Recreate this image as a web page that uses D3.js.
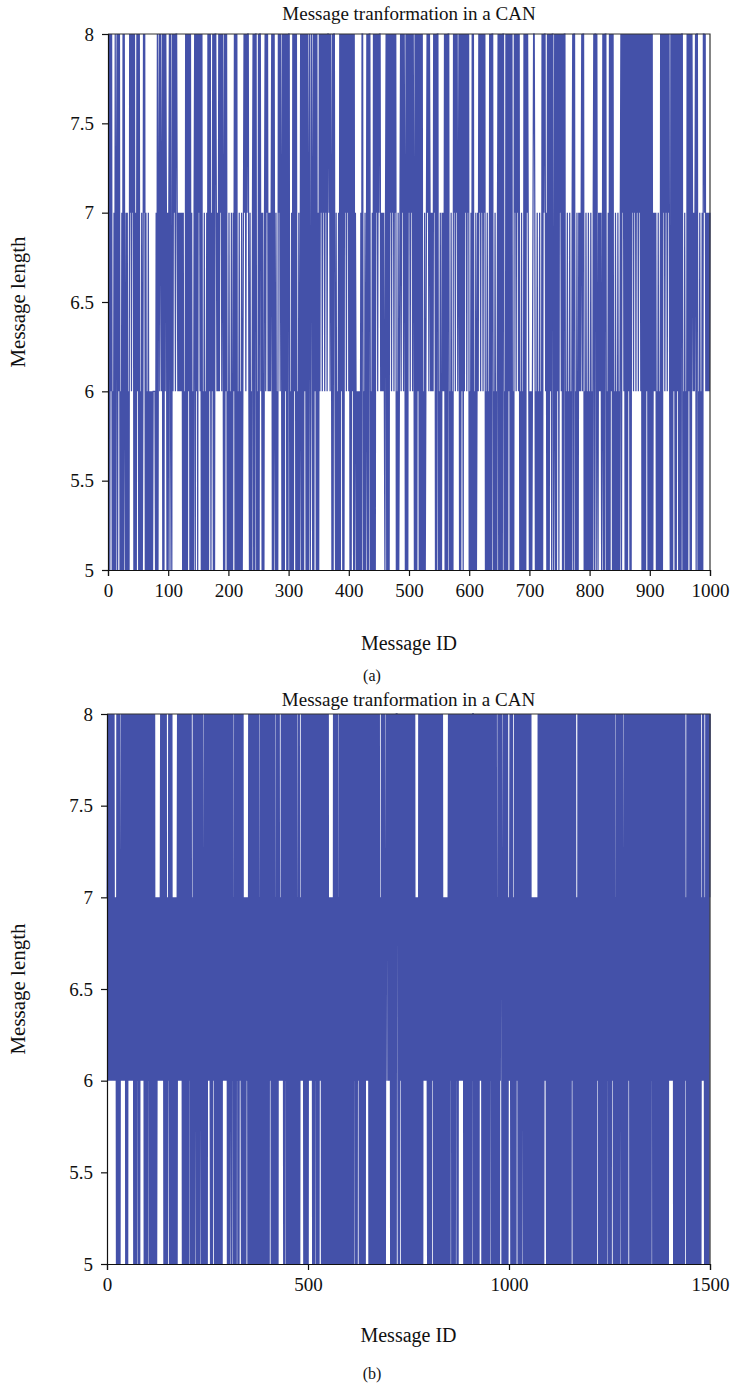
<!DOCTYPE html>
<html><head><meta charset="utf-8">
<script src="https://cdn.jsdelivr.net/npm/d3@7"></script>
<style>body{margin:0;background:#fff}</style>
</head><body>
<svg id="chart" width="733" height="1391"></svg>
<script>
// ---- data ----
const chartTitle = "Message tranformation in a CAN";
const xLabel = "Message ID";
const yLabel = "Message length";
const captions = ["(a)", "(b)"];
const yTicks = [5, 5.5, 6, 6.5, 7, 7.5, 8];
const xTicksA = [0, 100, 200, 300, 400, 500, 600, 700, 800, 900, 1000];
const xTicksB = [0, 500, 1000, 1500];
// message lengths, read left-to-right, 10 messages per block
const seriesABlocks = [
"7858685657","5857858685","6575858657","5756587868","7858575868","5856575687","8575657565","6565666657","5857868768","5858687575",
"7858658687","8688767676","7675756585","8586858575","6578586858","7868585657","5657585868","5768585887","6768687868","7585868565",
"7565755768","5858565756","5756787868","7886575657","8585885658","5886757557","8687867676","7858586575","6587868758","5858685858",
"8565758586","8585657568","5858586858","5857856875","8586858575","8687868786","8786887868","7585886575","6575858685","8587868786",
"8585868585","7656565657","5885657568","5858856575","8585878687","8867676765","7858585878","6878687856","5756786878","6875858587",
"8687868758","5858685858","5856575678","7868767676","8785858856","5755767685","8585885657","5658786878","6785858685","8687868785",
"6575858565","7567687868","7868785657","5658585885","6575657858","5858588565","8585868585","8565878687","8685657565","8585878765",
"6565678875","6575657565","8587886758","5858685885","6858586858","7868585885","6575657565","7858856575","5767678688","5657565756",
"5756578588","5865767675","6858588565","7585868585","6575657565","7858786858","5858685858","7868786878","6878685858","5858685858",
"5858576767","5657565858","5878687868","7865858586","8585868585","8588565756","5858685858","7676785885","6575657588","7867676767"
];
const seriesBBlocks = [
"7868786876","8687868676","7675858685","8576786878","6878685857","5868786878","6878685858","5857868586","5868786878","6858658578",
"5868758586","8585785856","5756767676","7678687868","7585868575","6768758585","8575657565","7565786878","6878687585","8685758586",
"5858678586","5756858587","8658586585","8786585856","5785865858","7868786585","8586878585","6858575868","5858658786","8786878685",
"8585686857","8685756858","5867858586","8786585856","5756576767","5685868585","8658578586","8586858575","6858586857","8586857858",
"5858687858","5865858575","6858587867","6768786875","8586875858","6858578586","5868578585","8575685857","6768786875","8586857585",
"8687868786","7585858687","5858685867","8685857858","5868575868","5756575657","5658586858","5858575685","8685857858","5868586857",
"8586758586","5857868586","8586878585","8685758685","8587868786","8585685858","6858578586","8585868575","6585868585","8576787868",
"7868758585","8586857858","8786585878","6858586585","8685857586","5858685857","8585865756","5756585868","5858587868","7868786585",
"8585865878","6858586585","8586758586","5858657565","7565756578","5858678585","8685857868","5858786878","6878687585","8586857858",
"5868585768","8585768586","5858586878","6858578585","8685868575","8586875858","5858685857","5685858687","8756585858","5858585767",
"6787585856","5758585878","6858586585","5878658585","8685758586","5858565756","5756576575","6585868585","8586857868","7865858658",
"5858675858","6858578586","8586858575","8685758685","5868578586","8585878685","8585865756","5858675858","6858586857","8586857585",
"8685868575","8585865878","6858586585","8586758586","5857868585","8585868785","8585756858","5858587865","8585657858","5858587868",
"5858685758","6858578586","8585868575","8685758586","5868585768","5857868585","8586758685","6858586857","8585768586","5858658786",
"8786878685","8586857858","5868578585","8585858676","7585868585","8685758586","5858675858","6858585767","6878675658","5858685878"
];
const seriesA = seriesABlocks.join("").split("").map(Number);
const seriesB = seriesBBlocks.join("").split("").map(Number);

// ---- drawing ----
const FONT = "'Liberation Serif', 'Times New Roman', serif";
const LINE_COLOR = "#4451a9";
const svg = d3.select("#chart");

function drawPanel(cfg) {
  const x = d3.scaleLinear().domain([0, cfg.xMax]).range([cfg.left, cfg.right]);
  const y = d3.scaleLinear().domain([5, 8]).range([cfg.bottom, cfg.top]);
  const g = svg.append("g");

  g.append("path")
    .datum(cfg.data)
    .attr("fill", "none")
    .attr("stroke", LINE_COLOR)
    .attr("stroke-width", cfg.strokeWidth)
    .attr("stroke-linejoin", "miter")
    .attr("d", d3.line().x((d, i) => x(i + 1)).y(d => y(d)));

  g.append("path")
    .attr("d", `M${cfg.left},${cfg.top}H${cfg.right}V${cfg.bottom}`)
    .attr("fill", "none").attr("stroke", "#333").attr("stroke-width", 1.2);

  const yAxis = g.append("g")
    .attr("transform", `translate(${cfg.left},0)`)
    .call(d3.axisLeft(y).tickValues(yTicks).tickSize(6).tickPadding(8).tickFormat(d => String(d)));
  const xAxis = g.append("g")
    .attr("transform", `translate(0,${cfg.bottom})`)
    .call(d3.axisBottom(x).tickValues(cfg.xTicks).tickSize(6).tickPadding(8).tickFormat(d => String(d)));
  [yAxis, xAxis].forEach(a => {
    a.select(".domain").attr("stroke", "#111").attr("stroke-width", 1.2);
    a.selectAll(".tick line").attr("stroke", "#111").attr("stroke-width", 1.2);
    a.selectAll("text").attr("font-family", FONT).attr("font-size", 19).attr("fill", "#111");
  });

  const cx = (cfg.left + cfg.right) / 2;
  g.append("text").text(chartTitle)
    .attr("x", cx).attr("y", cfg.titleY)
    .attr("text-anchor", "middle").attr("font-family", FONT).attr("font-size", 19).attr("fill", "#111");
  g.append("text").text(xLabel)
    .attr("x", cx).attr("y", cfg.xLabelY)
    .attr("text-anchor", "middle").attr("font-family", FONT).attr("font-size", 20).attr("fill", "#111");
  g.append("text").text(yLabel)
    .attr("transform", `translate(25,${(cfg.top + cfg.bottom) / 2}) rotate(-90)`)
    .attr("text-anchor", "middle").attr("font-family", FONT).attr("font-size", 21).attr("fill", "#111");
  g.append("text").text(cfg.caption)
    .attr("x", 372).attr("y", cfg.captionY)
    .attr("text-anchor", "middle").attr("font-family", FONT).attr("font-size", 16).attr("fill", "#111");
}

drawPanel({
  data: seriesA, xMax: 1000, xTicks: xTicksA,
  left: 108, right: 710, top: 34, bottom: 570,
  titleY: 20, xLabelY: 650, caption: captions[0], captionY: 681, strokeWidth: 1.25
});
drawPanel({
  data: seriesB, xMax: 1500, xTicks: xTicksB,
  left: 107, right: 710, top: 714, bottom: 1264,
  titleY: 706, xLabelY: 1342, caption: captions[1], captionY: 1379, strokeWidth: 1.6
});
</script>
</body></html>
